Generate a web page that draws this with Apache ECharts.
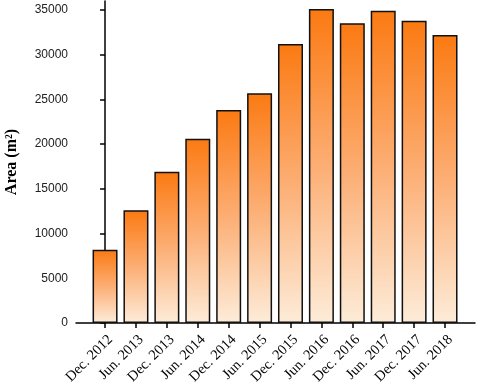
<!DOCTYPE html>
<html>
<head>
<meta charset="utf-8">
<script src="https://cdn.jsdelivr.net/npm/echarts@6/dist/echarts.min.js"></script>
<style>
  html, body { margin: 0; padding: 0; background: #fff; }
  #chart { width: 477px; height: 387px; }
</style>
</head>
<body>
<div id="chart"></div>
<script>
const periods = ['Dec. 2012', 'Jun. 2013', 'Dec. 2013', 'Jun. 2014', 'Dec. 2014', 'Jun. 2015',
  'Dec. 2015', 'Jun. 2016', 'Dec. 2016', 'Jun. 2017', 'Dec. 2017', 'Jun. 2018'];
const areas = [8200, 12600, 16900, 20600, 23800, 25700, 31200, 35100, 33500, 34900, 33800, 32200];
const yTicks = [0, 5000, 10000, 15000, 20000, 25000, 30000, 35000];

const chart = echarts.init(document.getElementById('chart'));
const idx = periods.map((p, i) => i);

chart.setOption({
  animation: false,
  grid: { left: 76, right: 2, top: 1, bottom: 64, outerBoundsMode: 'none' },
  xAxis: {
    type: 'value',
    min: -0.94,
    max: 11.97,
    splitLine: { show: false },
    axisLine: { show: true, lineStyle: { color: '#000', width: 1.5 } },
    axisTick: { show: true, customValues: idx, length: 5, lineStyle: { color: '#000', width: 1.5 } },
    axisLabel: {
      customValues: idx,
      formatter: v => periods[Math.round(v)],
      rotate: 45,
      margin: 9,
      verticalAlign: 'top',
      color: '#000',
      fontFamily: 'Liberation Serif, Times New Roman, serif',
      fontSize: 14.5
    }
  },
  yAxis: {
    type: 'value',
    min: 0,
    max: 36000,
    name: 'Area (m²)',
    nameLocation: 'middle',
    nameGap: 56,
    nameTextStyle: {
      fontFamily: 'Liberation Serif, Times New Roman, serif',
      fontWeight: 'bold',
      fontSize: 16,
      color: '#000'
    },
    splitLine: { show: false },
    axisLine: { show: true, lineStyle: { color: '#000', width: 1.5 } },
    axisTick: { show: true, customValues: yTicks, length: 5, lineStyle: { color: '#000', width: 1.5 } },
    axisLabel: {
      customValues: yTicks,
      formatter: v => String(v),
      margin: 8,
      color: '#222',
      fontFamily: 'Liberation Sans, Arial, sans-serif',
      fontSize: 12
    }
  },
  series: [{
    type: 'bar',
    barWidth: 25,
    data: areas.map((v, i) => [i, v]),
    itemStyle: {
      borderColor: '#111',
      borderWidth: 1.5,
      color: new echarts.graphic.LinearGradient(0, 0, 0, 1, [
        { offset: 0, color: '#fb7a12' },
        { offset: 0.5, color: '#fcae74' },
        { offset: 1, color: '#fdecd9' }
      ])
    }
  }]
});
</script>
</body>
</html>
